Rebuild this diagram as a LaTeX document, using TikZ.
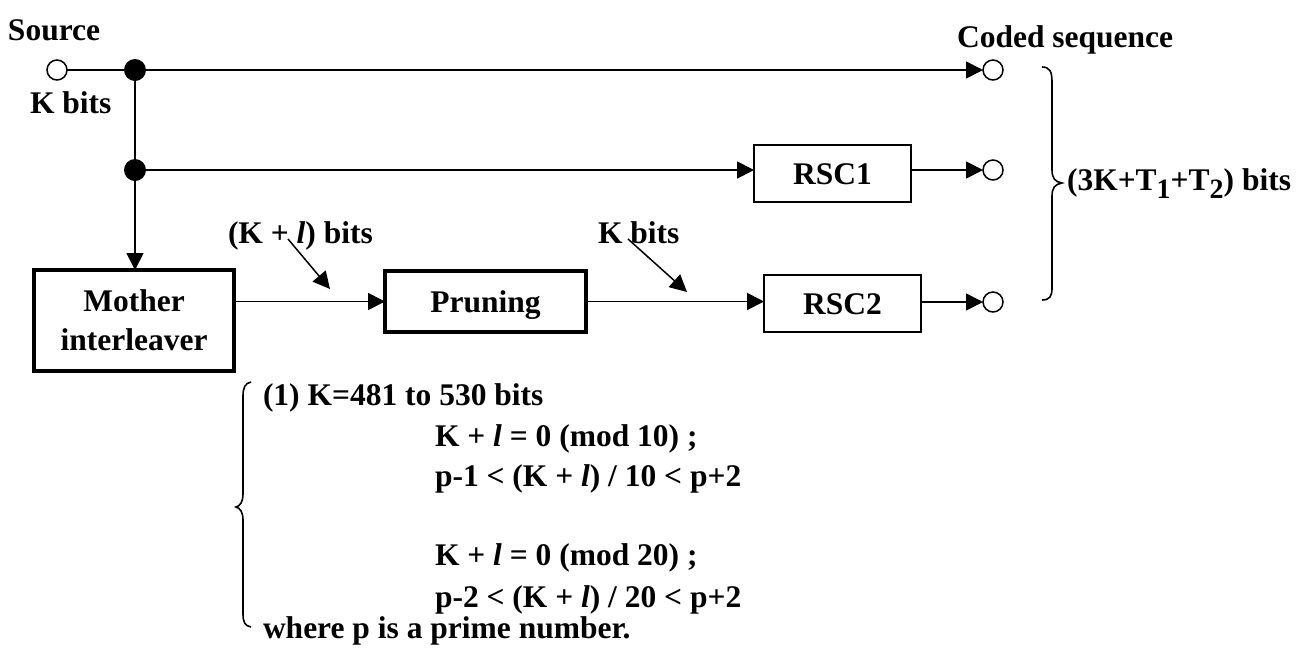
\documentclass[tikz,border=0pt]{standalone}
\usepackage{fontspec}
\setmainfont{Liberation Serif}
\usetikzlibrary{arrows.meta}
\newcommand{\lowsub}[1]{\raisebox{-8pt}{\fontsize{28}{28}\selectfont #1}}
\begin{document}
\begin{tikzpicture}[x=1pt,y=-1pt,
  every node/.style={inner sep=0pt, outer sep=0pt},
  bigfont/.style={font=\fontsize{31.5}{39}\bfseries\selectfont},
  txt/.style={bigfont, anchor=base west},
  wire/.style={line width=1.8pt},
  arr/.style={wire,-{Triangle[length=17pt,width=17pt]}},
  term/.style={circle, draw, line width=1.5pt, minimum size=20pt},
  dotj/.style={circle, fill=black, minimum size=22pt},
  thickbox/.style={draw, line width=4pt, bigfont, align=center},
  thinbox/.style={draw, line width=2pt, bigfont, minimum width=157pt, minimum height=57pt, text height=21pt, text depth=0pt},
  bracepath/.style={line width=1.6pt}
]
\useasboundingbox (0,0) rectangle (1298,649);

% terminals and junctions
\node[term] (src) at (57,70) {};
\node[dotj] (j1) at (135,70) {};
\node[dotj] (j2) at (135,170) {};
\node[term] (o1) at (993,70) {};
\node[term] (o2) at (993,170) {};
\node[term] (o3) at (993,302) {};

% blocks
\node[thickbox, minimum width=200pt, minimum height=101pt] (mother) at (134,320.5) {Mother\\interleaver};
\node[thickbox, minimum width=201pt, minimum height=61pt, text height=21pt, text depth=0pt] (prune) at (485.5,301.5) {Pruning};
\node[thinbox] (rsc1) at (832.5,173.5) {RSC1};
\node[thinbox] (rsc2) at (842.5,303.5) {RSC2};

% labels
\node[txt] (lsource) at (8,40) {Source};
\node[txt] (lkbits) at (30,113) {K bits};
\node[txt] (lcoded) at (957,47) {Coded sequence};
\node[txt] (lkl) at (228,243) {(K + \textit{l}) bits};
\node[txt] (lk2) at (598,243) {K bits};
\node[txt] (ltotal) at (1067,190) {(3K+T\lowsub{1}+T\lowsub{2}) bits};

% connectors
\draw[wire] (src) -- (j1);
\draw[arr] (j1) -- (o1);
\draw[wire] (j1) -- (j2);
\draw[arr] (j2) -- (j2 -| rsc1.west);
\draw[arr] (j2) -- (j2 |- mother.north);
\draw[arr] (mother.east |- prune) -- (prune);
\draw[arr] (prune) -- (prune -| rsc2.west);
\draw[arr] (rsc1.east |- o2) -- (o2);
\draw[arr] (rsc2.east |- o3) -- (o3);

% diagonal pointer arrows
\coordinate (p1s) at (288,239);
\coordinate (p1t) at (330,289);
\coordinate (p2s) at (628,239);
\coordinate (p2t) at (687,292);
\draw[wire, line width=1.5pt, -{Triangle[length=17pt,width=17pt]}] (p1s) -- (p1t);
\draw[wire, line width=1.5pt, -{Triangle[length=17pt,width=17pt]}] (p2s) -- (p2t);

% right brace
\draw[bracepath] (1042,67) .. controls (1050,67) and (1052,72) .. (1052,82)
  -- (1052,170) .. controls (1052,178) and (1055,182) .. (1062,183)
  .. controls (1055,184) and (1052,188) .. (1052,196)
  -- (1052,288) .. controls (1052,296) and (1050,300) .. (1042,300);

% left brace
\draw[bracepath] (251,382) .. controls (245,383) and (243,388) .. (243,396)
  -- (243,494) .. controls (243,502) and (240,506) .. (236,507)
  .. controls (240,508) and (243,512) .. (243,520)
  -- (243,614) .. controls (243,622) and (245,626) .. (251,627);

% conditions
\node[txt] (c1) at (263,405) {(1) K=481 to 530 bits};
\node[txt] (c2) at (435,446) {K + \textit{l} = 0 (mod 10) ;};
\node[txt] (c3) at (435,486) {p-1 < (K + \textit{l}) / 10 < p+2};
\node[txt] (c4) at (435,565) {K + \textit{l} = 0 (mod 20) ;};
\node[txt] (c5) at (435,607) {p-2 < (K + \textit{l}) / 20 < p+2};
\node[txt] (c6) at (263,638) {where p is a prime number.};
\end{tikzpicture}
\end{document}
